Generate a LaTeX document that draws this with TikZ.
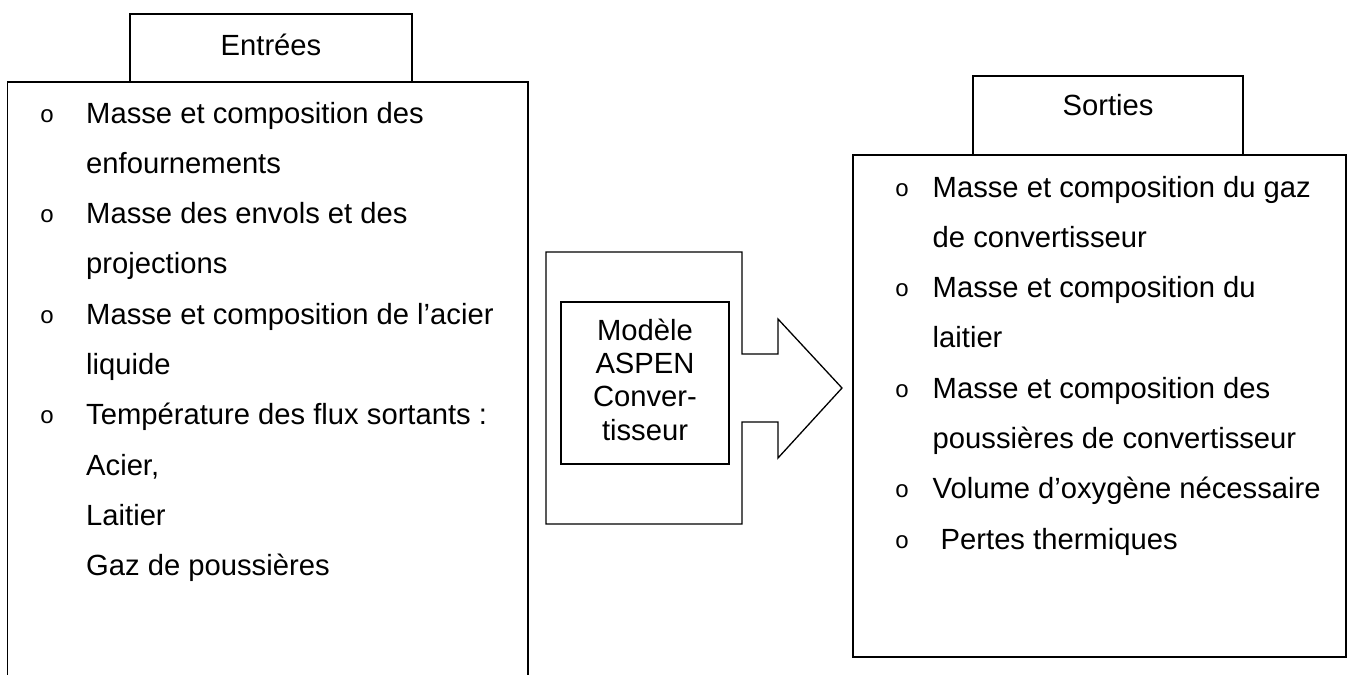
\documentclass[tikz,border=0pt]{standalone}
\usepackage{fontspec}
\setmainfont{Liberation Sans}
\newfontfamily\bulletfont{Liberation Mono}
\tikzset{
  boxline/.style={draw=black, line width=1.3pt},
  txt/.style={anchor=base west, inner sep=0pt, font=\fontsize{29.2}{35}\selectfont},
  ctxt/.style={anchor=base, inner sep=0pt, font=\fontsize{29.2}{35}\selectfont},
  bul/.style={anchor=base, inner sep=0pt, font=\bulletfont\fontsize{24}{28}\selectfont},
}
\begin{document}
\begin{tikzpicture}[x=1pt,y=-1pt]
\useasboundingbox[fill=white] (0,0) rectangle (1353,675);
% left group
\draw[boxline] (7.5,676) -- (7.5,82) -- (528,82) -- (528,676);
\node[boxline, minimum width=282pt, minimum height=68pt, inner sep=0pt] (entbox) at (271,48) {};
\node[ctxt] (ent) at (271,55) {Entrées};
% left items
\node[bul] (lb1) at (47,122) {o};
\node[txt] (l1) at (86,123) {Masse et composition des};
\node[txt] (l2) at (86,173.3) {enfournements};
\node[bul] (lb3) at (47,222.6) {o};
\node[txt] (l3) at (86,223.6) {Masse des envols et des};
\node[txt] (l4) at (86,273.9) {projections};
\node[bul] (lb5) at (47,323.2) {o};
\node[txt] (l5) at (86,324.2) {Masse et composition de l’acier};
\node[txt] (l6) at (86,374.5) {liquide};
\node[bul] (lb7) at (47,423.8) {o};
\node[txt] (l7) at (86,424.8) {Température des flux sortants :};
\node[txt] (l8) at (86,475.1) {Acier,};
\node[txt] (l9) at (86,525.4) {Laitier};
\node[txt] (l10) at (86,575.7) {Gaz de poussières};
% middle arrow callout
\draw[boxline, line join=miter] (546,252) -- (742,252) -- (742,354) -- (778,354) -- (778,319)
  -- (842,388) -- (778,458) -- (778,422) -- (742,422) -- (742,524) -- (546,524) -- cycle;
\node[boxline, minimum width=168pt, minimum height=162pt, inner sep=0pt] (modelbox) at (645,383) {};
\node[ctxt] (m1) at (645,340) {Modèle};
\node[ctxt] (m2) at (645,373.4) {ASPEN};
\node[ctxt] (m3) at (645,406.8) {Conver-};
\node[ctxt] (m4) at (645,440.2) {tisseur};
% right group
\node[boxline, minimum width=270pt, minimum height=79pt, inner sep=0pt] (sortbox) at (1108,115.5) {};
\node[ctxt] (sort) at (1108,115) {Sorties};
\node[boxline, minimum width=493pt, minimum height=502pt, inner sep=0pt] (rbox) at (1099.5,406) {};
\node[bul] (rb1) at (902,196) {o};
\node[txt] (r1) at (932.5,197) {Masse et composition du gaz};
\node[txt] (r2) at (932.5,247.3) {de convertisseur};
\node[bul] (rb3) at (902,296.6) {o};
\node[txt] (r3) at (932.5,297.6) {Masse et composition du};
\node[txt] (r4) at (932.5,347.9) {laitier};
\node[bul] (rb5) at (902,397.2) {o};
\node[txt] (r5) at (932.5,398.2) {Masse et composition des};
\node[txt] (r6) at (932.5,448.5) {poussières de convertisseur};
\node[bul] (rb7) at (902,497.8) {o};
\node[txt] (r7) at (932.5,498.8) {Volume d’oxygène nécessaire};
\node[bul] (rb8) at (902,548.1) {o};
\node[txt] (r8) at (940.5,549.1) {Pertes thermiques};
\end{tikzpicture}
\end{document}
